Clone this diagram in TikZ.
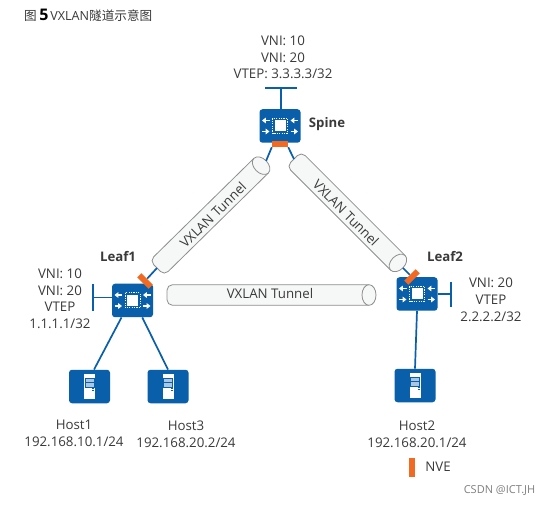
\documentclass[tikz,border=0pt]{standalone}
\usepackage{fontspec}
\setmainfont{Open Sans}
\newfontfamily\cjk{Noto Sans CJK SC}
\usetikzlibrary{arrows.meta}
\definecolor{hwblue}{HTML}{0A5FAA}
\definecolor{nvecol}{HTML}{F26A21}
\definecolor{txtcol}{HTML}{3A3A3A}
\definecolor{tunfill}{HTML}{F6F7F7}
\definecolor{tunline}{HTML}{8E8E8E}
\definecolor{drawer}{HTML}{A9C6E2}
\tikzset{
  x=1pt,y=-1pt,
  lbl/.style={font=\fontsize{13.3}{15}\selectfont,text=txtcol,inner sep=0pt},
  boldlbl/.style={font=\fontsize{13.2}{15}\selectfont\bfseries,text=txtcol,inner sep=0pt},
  device/.style={fill=hwblue,rounded corners=3pt,minimum width=41pt,minimum height=33.5pt,inner sep=0pt},
  link/.style={draw=hwblue,line width=1.7pt},
  nve/.style={fill=nvecol,minimum width=16pt,minimum height=6pt,inner sep=0pt},
  tunedge/.style={draw=tunline,line width=0.8pt},
  arw/.style={white,line width=1.3pt,-{Triangle[length=3.8pt,width=5.5pt]}}
}
\newcommand{\swicon}[3]{%
  \node[device] (#1) at (#2,#3) {};
  \begin{scope}[shift={(#2,#3)}]
    \fill[white] (-5.5,-5.5) rectangle (5.5,5.5);
    \draw[white,line width=1pt,dash pattern=on 1.2pt off 1.2pt] (-7.5,-7.5) rectangle (7.5,7.5);
    \draw[arw] (-10.5,-5.5) -- (-18,-5.5);
    \draw[arw] (-18,5.5) -- (-10.5,5.5);
    \draw[arw] (18,-5.5) -- (10.5,-5.5);
    \draw[arw] (10.5,5.5) -- (18,5.5);
  \end{scope}}
\newcommand{\hosticon}[3]{%
  \node[device] (#1) at (#2,#3) {};
  \begin{scope}[shift={(#2,#3)}]
    \fill[white] (-5.5,-12.5) rectangle (5.5,12.5);
    \draw[hwblue,fill=drawer,line width=0.5pt] (-4.5,-8.5) rectangle (4.5,-4.5);
    \draw[hwblue,fill=drawer,line width=0.5pt] (-4.5,-4) rectangle (4.5,0.5);
    \fill[hwblue] (2.5,1.5) rectangle (4.5,2.5);
    \fill[hwblue] (2.5,3.8) rectangle (4.5,4.8);
  \end{scope}}
\newcommand{\tunnel}[5]{% name, x, y, angle, length
  \begin{scope}[shift={(#2,#3)},rotate=#4]
    \fill[tunfill,rounded corners=5.5pt] (#5,-10.3) -- (0,-10.3) -- (0,10.3) -- (#5,10.3) -- cycle;
    \draw[tunedge,rounded corners=5.5pt] (#5,-10.3) -- (0,-10.3) -- (0,10.3) -- (#5,10.3);
    \draw[tunedge,fill=tunfill] (#5,0) ellipse [x radius=7pt,y radius=10.3pt];
    \coordinate (#1a) at (0,0);
    \coordinate (#1b) at (#5+7,0);
  \end{scope}}
\begin{document}
\begin{tikzpicture}
\useasboundingbox (0,0) rectangle (552,505);
\fill[white] (0,0) rectangle (552,505);

% title
\node[anchor=west,inner sep=0pt,text=txtcol,font=\fontsize{12.6}{14}\selectfont] (title) at (24,15.5)
  {{\cjk 图}\hspace{2.5pt}{\color{black}\fontsize{16}{14}\selectfont\bfseries 5}\hspace{2pt}VXLAN{\cjk 隧道示意图}};

% tunnels
\tunnel{tl}{157}{268}{44.5}{146}
\tunnel{tr}{294}{159}{-45}{147}
\tunnel{th}{167}{295}{0}{202}
\node[lbl,rotate=44.5] (tltext) at (213,215) {VXLAN Tunnel};
\node[lbl,rotate=-45] (trtext) at (346,213) {VXLAN Tunnel};
\node[lbl] (thtext) at (270,294) {VXLAN Tunnel};

% devices
\swicon{spine}{280}{126}
\swicon{leafa}{132.5}{300.5}
\swicon{leafb}{417}{294}
\hosticon{hosta}{89.5}{386.5}
\hosticon{hostc}{168}{386.5}
\hosticon{hostb}{415}{385.5}

% NVE bars
\node[nve] (nves) at (280,144) {};
\node[nve,rotate=-45] (nvea) at (145,281) {};
\node[nve,rotate=45] (nveb) at (412,277) {};

% connectors
\draw[link] (nves.south west) -- (tlb);
\draw[link] (nves.south east) -- (tra);
\draw[link] (nvea) -- (tla);
\draw[link] (nveb) -- (trb);
\draw[link] (leafa.237.5) -- (hosta.75);
\draw[link] (leafa.-60) -- (hostc.north);
\draw[link] (leafb.south) -- (hostb.north);

% T bars
\coordinate (sbar) at (281,88);
\draw[link] (spine.north -| sbar) -- (sbar);
\coordinate (sbarl) at (265,88); \coordinate (sbarr) at (297,88);
\draw[link] (sbarl) -- (sbarr);
\coordinate (abar) at (93,297.5);
\draw[link] (leafa.west |- abar) -- (abar);
\coordinate (abart) at (93,284); \coordinate (abarb) at (93,311);
\draw[link] (abart) -- (abarb);
\coordinate (bbar) at (451,294);
\draw[link] (leafb.east) -- (bbar);
\coordinate (bbart) at (451,282); \coordinate (bbarb) at (451,307);
\draw[link] (bbart) -- (bbarb);

% labels
\node[lbl] (s1) at (283,41) {VNI: 10};
\node[lbl] (s2) at (283,58) {VNI: 20};
\node[lbl] (s3) at (283,74) {VTEP: 3.3.3.3/32};
\node[boldlbl] (spinel) at (327,124.5) {Spine};
\node[boldlbl] (leafal) at (118,256.5) {Leaf1};
\node[boldlbl] (leafbl) at (445,256.5) {Leaf2};
\node[lbl] (a1) at (60,274) {VNI: 10};
\node[lbl] (a2) at (60,291) {VNI: 20};
\node[lbl] (a3) at (60,307) {VTEP};
\node[lbl] (a4) at (60,324) {1.1.1.1/32};
\node[lbl] (b1) at (491,283) {VNI: 20};
\node[lbl] (b2) at (491,299.5) {VTEP};
\node[lbl] (b3) at (491,316.5) {2.2.2.2/32};
\node[lbl] (h1a) at (74,425) {Host1};
\node[lbl] (h1b) at (74,441.5) {192.168.10.1/24};
\node[lbl] (h3a) at (186,426) {Host3};
\node[lbl] (h3b) at (186,443) {192.168.20.2/24};
\node[lbl] (h2a) at (417,426) {Host2};
\node[lbl] (h2b) at (417,443) {192.168.20.1/24};

% legend
\node[fill=nvecol,minimum width=6.5pt,minimum height=19pt,inner sep=0pt] (legend) at (412,467.5) {};
\node[lbl] (legendt) at (438,467) {NVE};

% watermark
\node[inner sep=0pt,text=black!50,font=\fontsize{11}{12}\selectfont] (wm) at (499.5,491) {CSDN @ICT.JH};
\end{tikzpicture}
\end{document}
